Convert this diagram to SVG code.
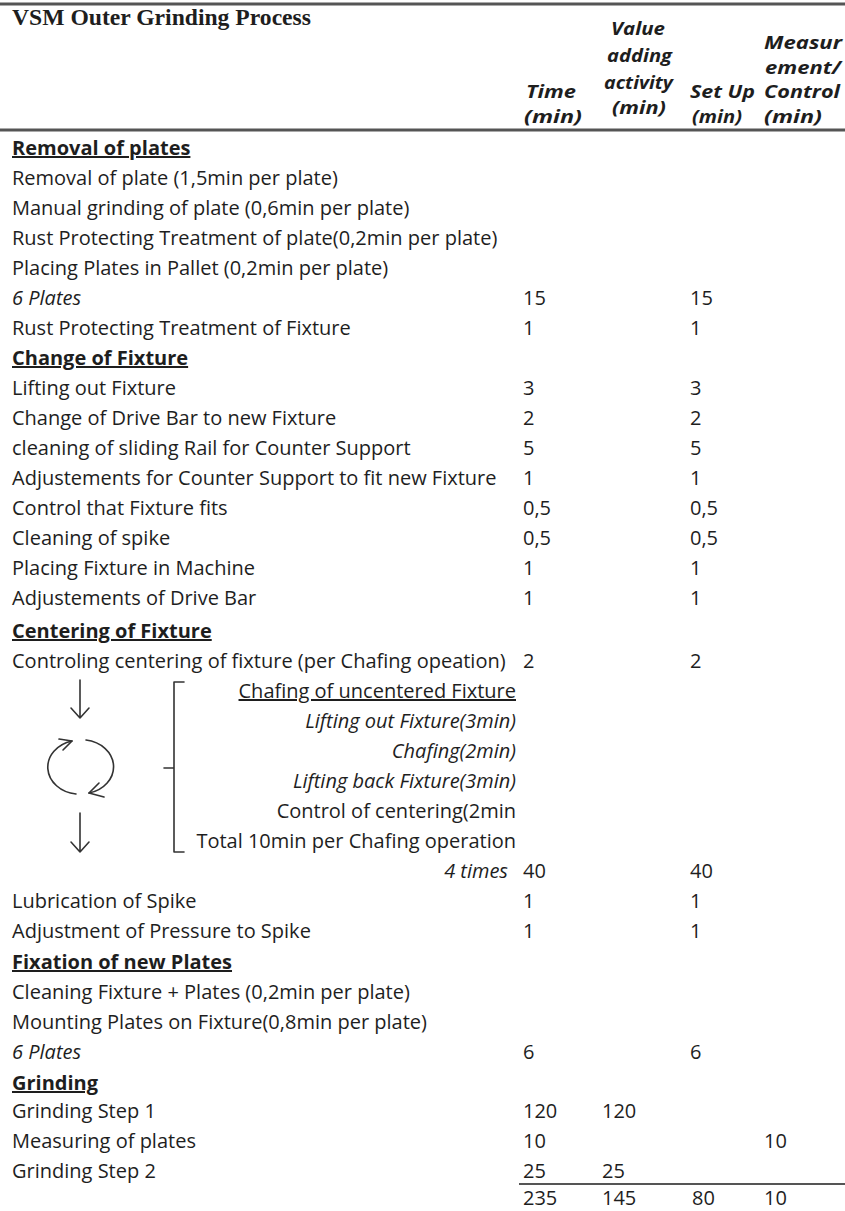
<svg xmlns="http://www.w3.org/2000/svg" width="845" height="1211" viewBox="0 0 845 1211">
<style>
text{font-family:"Open Sans","Liberation Sans",sans-serif;font-size:20px;fill:#1e1e1e}
.h{font-weight:bold;text-decoration:underline}
.i{font-style:italic}
.r{text-anchor:end}
.ch{font-weight:bold;font-style:italic;font-size:18.5px}
.title{font-family:"Liberation Serif","DejaVu Serif",serif;font-weight:bold;font-size:23px}
.rule{stroke:#555;fill:none}
.ic{stroke:#333;stroke-width:1.6;fill:none;stroke-linecap:round;stroke-linejoin:round}
</style>
<rect width="845" height="1211" fill="#fff"/>
<g id="rules">
<line class="rule" x1="0" y1="4" x2="845" y2="4" stroke-width="3"/>
<line class="rule" x1="0" y1="130" x2="845" y2="130" stroke-width="3"/>
<line class="rule" x1="519" y1="1184" x2="845" y2="1184" stroke-width="2"/>
</g>
<g id="header">
<text class="title" x="12" y="25" textLength="299" lengthAdjust="spacingAndGlyphs">VSM Outer Grinding Process</text>
<text class="ch" x="526" y="98" textLength="50" lengthAdjust="spacingAndGlyphs">Time</text>
<text class="ch" x="524" y="123" textLength="58" lengthAdjust="spacingAndGlyphs">(min)</text>
<text class="ch" x="611" y="35" textLength="54" lengthAdjust="spacingAndGlyphs">Value</text>
<text class="ch" x="607" y="62" textLength="65" lengthAdjust="spacingAndGlyphs">adding</text>
<text class="ch" x="604" y="89" textLength="69" lengthAdjust="spacingAndGlyphs">activity</text>
<text class="ch" x="612" y="114" textLength="54" lengthAdjust="spacingAndGlyphs">(min)</text>
<text class="ch" x="690" y="98" textLength="65" lengthAdjust="spacingAndGlyphs">Set Up</text>
<text class="ch" x="692" y="123" textLength="50" lengthAdjust="spacingAndGlyphs">(min)</text>
<text class="ch" x="764" y="49" textLength="78" lengthAdjust="spacingAndGlyphs">Measur</text>
<text class="ch" x="765" y="74" textLength="76" lengthAdjust="spacingAndGlyphs">ement/</text>
<text class="ch" x="764" y="98" textLength="76" lengthAdjust="spacingAndGlyphs">Control</text>
<text class="ch" x="764" y="123" textLength="58" lengthAdjust="spacingAndGlyphs">(min)</text>
</g>
<g id="rows">
<text class="h" x="12" y="155">Removal of plates </text>
<text x="12" y="185">Removal of plate (1,5min per plate)</text>
<text x="12" y="215">Manual grinding of plate (0,6min per plate)</text>
<text x="12" y="245">Rust Protecting Treatment of plate(0,2min per plate)</text>
<text x="12" y="275">Placing Plates in Pallet (0,2min per plate)</text>
<text class="i" x="12" y="305">6 Plates</text><text x="523" y="305">15</text><text x="690" y="305">15</text>
<text x="12" y="335">Rust Protecting Treatment of Fixture</text><text x="523" y="335">1</text><text x="690" y="335">1</text>
<text class="h" x="12" y="365">Change of Fixture</text>
<text x="12" y="395">Lifting out Fixture</text><text x="523" y="395">3</text><text x="690" y="395">3</text>
<text x="12" y="425">Change of Drive Bar to new Fixture</text><text x="523" y="425">2</text><text x="690" y="425">2</text>
<text x="12" y="455">cleaning of sliding Rail for Counter Support</text><text x="523" y="455">5</text><text x="690" y="455">5</text>
<text x="12" y="485">Adjustements for Counter Support to fit new Fixture</text><text x="523" y="485">1</text><text x="690" y="485">1</text>
<text x="12" y="515">Control that Fixture fits</text><text x="523" y="515">0,5</text><text x="690" y="515">0,5</text>
<text x="12" y="545">Cleaning of spike</text><text x="523" y="545">0,5</text><text x="690" y="545">0,5</text>
<text x="12" y="575">Placing Fixture in Machine</text><text x="523" y="575">1</text><text x="690" y="575">1</text>
<text x="12" y="605">Adjustements of Drive Bar</text><text x="523" y="605">1</text><text x="690" y="605">1</text>
<text class="h" x="12" y="638">Centering of Fixture</text>
<text x="12" y="668">Controling centering of fixture (per Chafing opeation)</text><text x="523" y="668">2</text><text x="690" y="668">2</text>
<text class="r" x="516" y="698" text-decoration="underline">Chafing of uncentered Fixture</text>
<text class="r i" x="516" y="728">Lifting out Fixture(3min)</text>
<text class="r i" x="516" y="758">Chafing(2min)</text>
<text class="r i" x="516" y="788">Lifting back Fixture(3min)</text>
<text class="r" x="516" y="818">Control of centering(2min</text>
<text class="r" x="516" y="848">Total 10min per Chafing operation</text>
<text class="r i" x="508" y="878">4 times</text><text x="523" y="878">40</text><text x="690" y="878">40</text>
<text x="12" y="908">Lubrication of Spike</text><text x="523" y="908">1</text><text x="690" y="908">1</text>
<text x="12" y="938">Adjustment of Pressure to Spike</text><text x="523" y="938">1</text><text x="690" y="938">1</text>
<text class="h" x="12" y="969">Fixation of new Plates</text>
<text x="12" y="999">Cleaning Fixture + Plates (0,2min per plate)</text>
<text x="12" y="1029">Mounting Plates on Fixture(0,8min per plate)</text>
<text class="i" x="12" y="1059">6 Plates</text><text x="523" y="1059">6</text><text x="690" y="1059">6</text>
<text class="h" x="12" y="1090">Grinding</text>
<text x="12" y="1118">Grinding Step 1</text><text x="523" y="1118">120</text><text x="602" y="1118">120</text>
<text x="12" y="1148">Measuring of plates</text><text x="523" y="1148">10</text><text x="764" y="1148">10</text>
<text x="12" y="1178">Grinding Step 2</text><text x="523" y="1178">25</text><text x="602" y="1178">25</text>
<text x="523" y="1205">235</text><text x="602" y="1205">145</text><text x="692" y="1205">80</text><text x="764" y="1205">10</text>
</g>
<g id="connectors">
<path class="ic" d="M80 680 V718 M71 708 L80 718 L89 708"/>
<path class="ic" d="M76 794 A32 27 0 0 1 72 741"/>
<path class="ic" d="M59 739 L72 741 L63 750"/>
<path class="ic" d="M86 740 A32 27 0 0 1 89 793"/>
<path class="ic" d="M104 797 L89 793 L99 783"/>
<path class="ic" d="M80 813 V852 M71 842 L80 852 L89 842"/>
<path class="ic" d="M184 682 H174 V852 H184 M174 768 H164" stroke="#555"/>
</g>
</svg>
